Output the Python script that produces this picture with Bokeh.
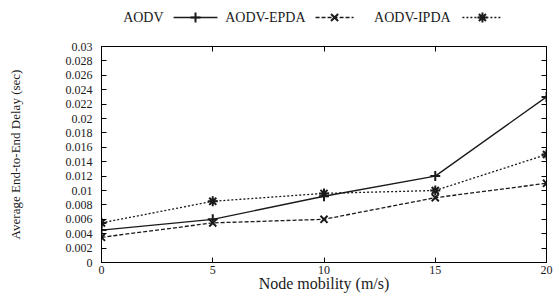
from bokeh.plotting import figure
from bokeh.layouts import column
from bokeh.models import Range1d, FixedTicker, LinearAxis, CustomJSTickFormatter
from bokeh.core.properties import value
from bokeh.embed import file_html
from bokeh.resources import INLINE

# ---- data ----
mobility = [0, 5, 10, 15, 20]
aodv = [0.0045, 0.006, 0.0092, 0.012, 0.023]
aodv_epda = [0.0035, 0.0055, 0.006, 0.009, 0.011]
aodv_ipda = [0.0055, 0.0085, 0.0096, 0.010, 0.015]

series_names = ["AODV", "AODV-EPDA", "AODV-IPDA"]
x_ticks = [0, 5, 10, 15, 20]
y_ticks = [0, 0.002, 0.004, 0.006, 0.008, 0.01, 0.012, 0.014, 0.016,
           0.018, 0.02, 0.022, 0.024, 0.026, 0.028, 0.03]
y_tick_labels = ["0", "0.002", "0.004", "0.006", "0.008", "0.01", "0.012",
                 "0.014", "0.016", "0.018", "0.02", "0.022", "0.024",
                 "0.026", "0.028", "0.03"]

FONT = "Liberation Serif"
INK = "#1a1a1a"
styles = [
    dict(dash="solid", marker="cross"),
    dict(dash="4 2", marker="x"),
    dict(dash="2 2", marker="asterisk"),
]
series = [aodv, aodv_epda, aodv_ipda]

W = 555
LEG_H = 30
MAIN_H = 268
BL, BR = 101, 9

# ---- key strip, gnuplot style (title, then sample); x in mobility units ----
leg = figure(width=W, height=LEG_H, x_range=Range1d(0, 20), y_range=Range1d(0, LEG_H),
             output_backend="svg", toolbar_location=None,
             x_axis_location=None, y_axis_location=None,
             min_border_left=BL, min_border_right=BR, min_border_top=0, min_border_bottom=0)
leg.outline_line_color = None
leg.grid.visible = False
key_title_right = [2.79, 9.17, 15.69]
key_sample = [(3.24, 5.21), (9.62, 11.33), (16.22, 18.02)]
key_y = 13
for name, st, tr, (s0, s1) in zip(series_names, styles, key_title_right, key_sample):
    leg.text(x=[tr], y=[key_y], text=[name], text_font=value(FONT),
             text_font_size="14px", text_align="right", text_baseline="middle",
             text_color=INK)
    leg.line(x=[s0, s1], y=[key_y, key_y], line_color=INK, line_width=1.3,
             line_dash=st["dash"])
    leg.scatter(x=[(s0 + s1) / 2], y=[key_y], marker=st["marker"], size=10,
                line_color=INK, line_width=2)

# ---- main plot ----
p = figure(width=W, height=MAIN_H, x_range=Range1d(0, 20), y_range=Range1d(0, 0.03),
           output_backend="svg", toolbar_location=None,
           min_border_left=BL, min_border_right=BR, min_border_top=16, min_border_bottom=36)
p.grid.visible = False
p.outline_line_color = "black"
p.outline_line_width = 1

for ys, st in zip(series, styles):
    p.line(mobility, ys, line_color=INK, line_width=1.3, line_dash=st["dash"])
    p.scatter(mobility, ys, marker=st["marker"], size=10, line_color=INK, line_width=2)

yfmt = CustomJSTickFormatter(args=dict(tv=y_ticks, tl=y_tick_labels), code="""
const i = tv.findIndex(t => Math.abs(t - tick) < 1e-9);
return i >= 0 ? tl[i] : '';
""")
blank = CustomJSTickFormatter(code="return '';")

xa = p.xaxis[0]
xa.ticker = FixedTicker(ticks=x_ticks)
xa.axis_label = "Node mobility (m/s)"
ya = p.yaxis[0]
ya.ticker = FixedTicker(ticks=y_ticks)
ya.formatter = yfmt
ya.axis_label = "Average End-to-End Delay (sec)"

for ax in (xa, ya):
    ax.major_tick_in = 5
    ax.major_tick_out = 0
    ax.minor_tick_line_color = None
    ax.axis_line_color = "black"
    ax.major_tick_line_color = "black"
    ax.major_label_text_font = FONT
    ax.major_label_text_color = INK
    ax.major_label_text_font_size = "12px"
    ax.axis_label_text_font = FONT
    ax.axis_label_text_font_style = "normal"
    ax.axis_label_text_color = INK

xa.major_label_standoff = 3
xa.axis_label_text_font_size = "16px"
xa.axis_label_standoff = -2
ya.major_label_standoff = 9
ya.axis_label_text_font_size = "13px"
ya.axis_label_standoff = 40

# mirrored axes (ticks only)
ra = LinearAxis(ticker=FixedTicker(ticks=y_ticks), formatter=blank,
                major_tick_in=5, major_tick_out=0, minor_tick_line_color=None,
                major_label_standoff=0, axis_line_color="black")
ta = LinearAxis(ticker=FixedTicker(ticks=x_ticks), formatter=blank,
                major_tick_in=5, major_tick_out=0, minor_tick_line_color=None,
                major_label_standoff=0, axis_line_color="black")
p.add_layout(ra, "right")
p.add_layout(ta, "above")

layout = column(leg, p, spacing=0)
open("out.html", "w").write(file_html(layout, INLINE))
